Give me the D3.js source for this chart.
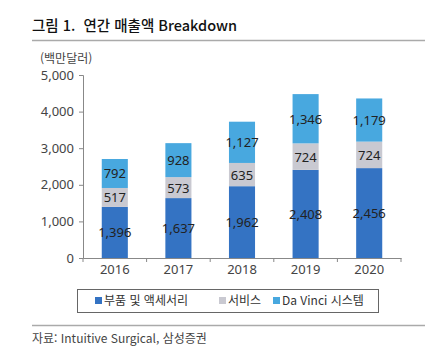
<!DOCTYPE html>
<html lang="ko">
<head>
    <meta charset="UTF-8">
    <title>연간 매출액 Breakdown</title>
    <script src="https://d3js.org/d3.v7.min.js"></script>
    <style>
        * { margin: 0; padding: 0; box-sizing: border-box; }
        body { background: #fff; font-family: "Noto Sans CJK KR", "Noto Sans", sans-serif; }
        text { white-space: pre; }
    </style>
</head>
<body>
    <div id="chart"></div>
    <script>
        const years = ["2016", "2017", "2018", "2019", "2020"];
        const seriesNames = ["부품 및 액세서리", "서비스", "Da Vinci 시스템"];
        const parts = [1396, 1637, 1962, 2408, 2456];
        const services = [517, 573, 635, 724, 724];
        const systems = [792, 928, 1127, 1346, 1179];
        const yTicks = [0, 1000, 2000, 3000, 4000, 5000];
        const colors = ["#3473c3", "#c9c9d1", "#48a8df"];

        const W = 435, H = 353;
        const svg = d3.select("#chart").append("svg")
            .attr("width", W).attr("height", H);

        // title + rules
        svg.append("text")
            .attr("x", 32).attr("y", 31)
            .style("font-size", "14.5px")
            .style("font-weight", "500")
            .attr("fill", "#111")
            .text("그림 1.  연간 매출액 Breakdown");
        svg.append("line")
            .attr("x1", 32).attr("x2", 425).attr("y1", 40.5).attr("y2", 40.5)
            .attr("stroke", "#aaa").attr("stroke-width", 1.5);
        svg.append("line")
            .attr("x1", 32).attr("x2", 425).attr("y1", 325.5).attr("y2", 325.5)
            .attr("stroke", "#aaa").attr("stroke-width", 1.5);

        svg.append("text")
            .attr("x", 40).attr("y", 63)
            .style("font-size", "12px")
            .attr("fill", "#444")
            .text("(백만달러)");

        const x = d3.scaleBand().domain(years).range([83, 401]).paddingInner(0.59).paddingOuter(0.295);
        const xAxisScale = d3.scaleBand().domain(years).range([83, 401]);
        const y = d3.scaleLinear().domain([0, 5000]).range([258, 75]);

        // y axis
        const yAxis = svg.append("g")
            .attr("transform", "translate(83,0)")
            .call(d3.axisLeft(y).tickValues(yTicks).tickFormat(d3.format(",")).tickSize(4).tickPadding(5));
        yAxis.select(".domain").attr("stroke", "#888");
        yAxis.selectAll(".tick line").attr("stroke", "#888");
        yAxis.selectAll("text")
            .style("font-size", "13px")
            .style("font-family", "'Noto Sans', sans-serif")
            .attr("fill", "#444");

        // stacked bars
        const rows = years.map((yr, i) => ({ year: yr, p: parts[i], s: services[i], d: systems[i] }));
        const stack = d3.stack().keys(["p", "s", "d"])(rows);

        const layers = svg.selectAll(".layer")
            .data(stack)
            .join("g")
            .attr("class", "layer")
            .attr("fill", (d, i) => colors[i]);

        layers.selectAll("rect")
            .data(d => d)
            .join("rect")
            .attr("x", d => x(d.data.year))
            .attr("y", d => y(d[1]))
            .attr("width", x.bandwidth())
            .attr("height", d => y(d[0]) - y(d[1]));

        layers.selectAll("text")
            .data(d => d)
            .join("text")
            .attr("x", d => x(d.data.year) + x.bandwidth() / 2)
            .attr("y", d => (y(d[0]) + y(d[1])) / 2 + 5)
            .attr("text-anchor", "middle")
            .style("font-size", "13px")
            .style("font-family", "'Noto Sans', sans-serif")
            .attr("fill", "#222")
            .text(d => d3.format(",")(d[1] - d[0]));

        // x axis
        const xAxis = svg.append("g")
            .attr("transform", "translate(0,258)")
            .call(d3.axisBottom(xAxisScale).tickSize(0).tickPadding(7));
        xAxis.select(".domain").attr("stroke", "#888");
        xAxis.selectAll("text")
            .style("font-size", "13px")
            .style("font-family", "'Noto Sans', sans-serif")
            .attr("fill", "#444");
        xAxis.selectAll(".sep")
            .data(d3.range(years.length + 1))
            .join("line")
            .attr("class", "sep")
            .attr("x1", i => 83 + i * xAxisScale.step())
            .attr("x2", i => 83 + i * xAxisScale.step())
            .attr("y1", 0).attr("y2", 4)
            .attr("stroke", "#888");

        // legend
        const legend = svg.append("g");
        legend.append("rect")
            .attr("x", 77.5).attr("y", 289.5).attr("width", 301).attr("height", 23)
            .attr("fill", "none").attr("stroke", "#666");
        const legendX = [95, 219, 273];
        seriesNames.forEach((name, i) => {
            legend.append("rect")
                .attr("x", legendX[i]).attr("y", 297)
                .attr("width", 7).attr("height", 7)
                .attr("fill", colors[i]);
            legend.append("text")
                .attr("x", legendX[i] + 9).attr("y", 305)
                .style("font-size", "12px")
                .attr("fill", "#333")
                .text(name);
        });

        svg.append("text")
            .attr("x", 32).attr("y", 343)
            .style("font-size", "12px")
            .attr("fill", "#444")
            .text("자료: Intuitive Surgical, 삼성증권");
    </script>
</body>
</html>
